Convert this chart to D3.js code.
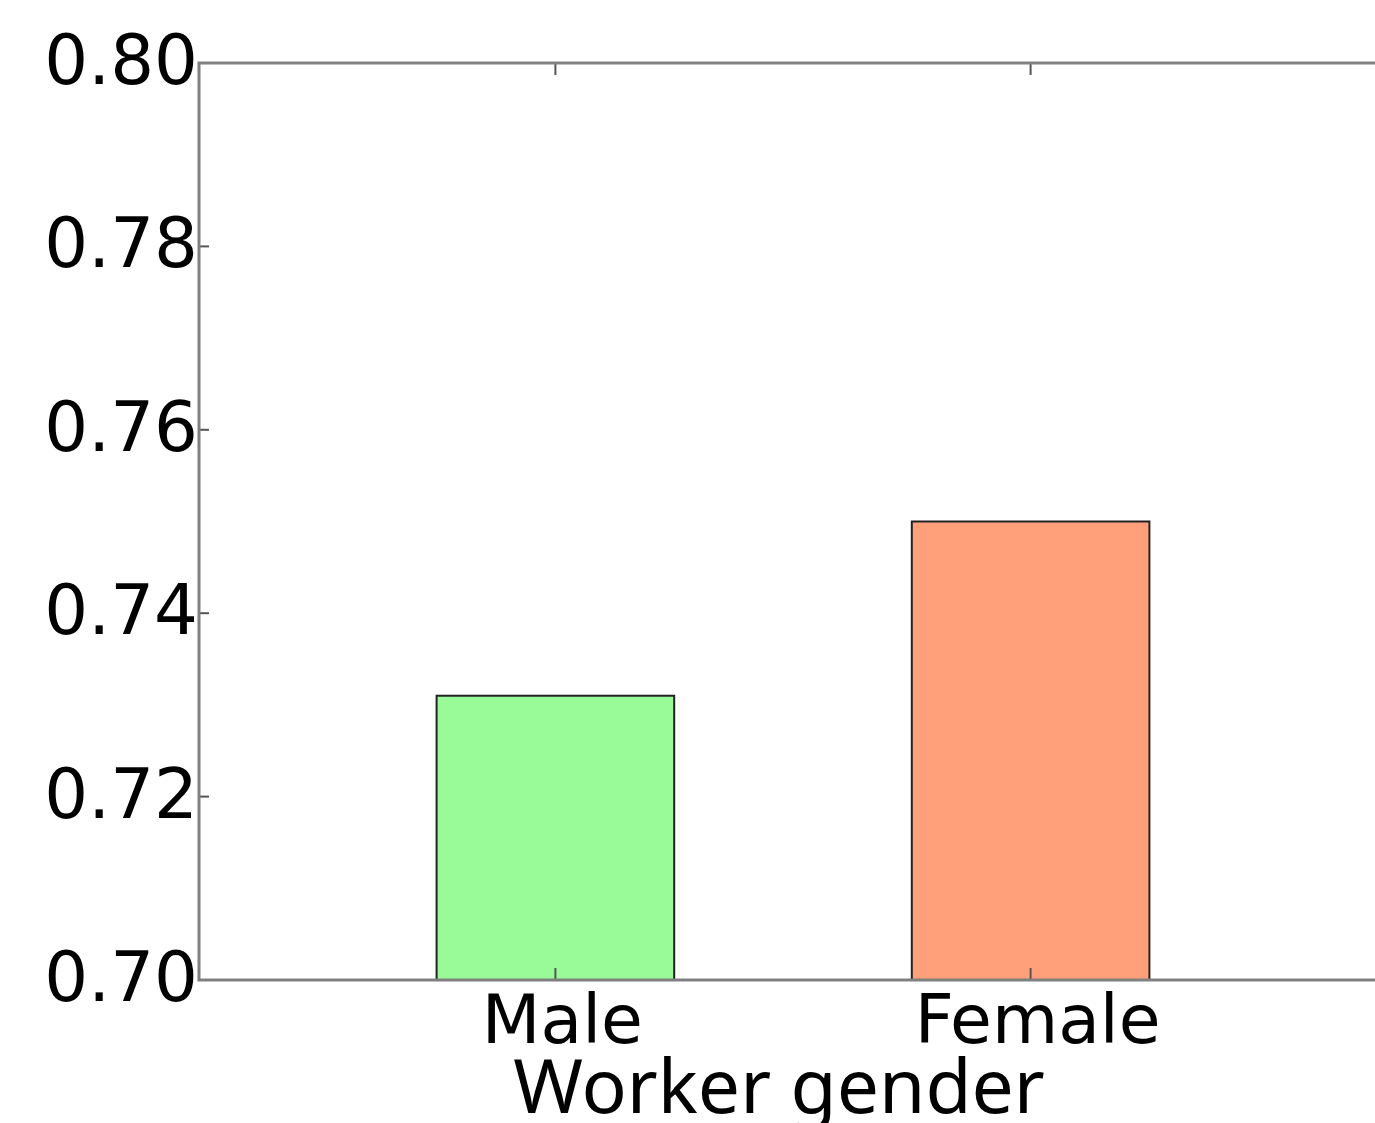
<!DOCTYPE html>
<html lang="en">
<head>
<meta charset="utf-8">
<title>Worker gender</title>
<script src="https://cdn.jsdelivr.net/npm/d3@7"></script>
<style>
  body { margin: 0; background: #fff; }
  svg { display: block; }
</style>
</head>
<body>
<script>
// data
var categories = ["Male", "Female"];
var values = [0.731, 0.750];
var barColors = ["#98fb98", "#ffa07a"];
var yTicks = [0.70, 0.72, 0.74, 0.76, 0.78, 0.80];
var xLabel = "Worker gender";

var W = 1375, H = 1123;

var svg = d3.select("body").append("svg")
    .attr("width", W)
    .attr("height", H);

// matplotlib style: bars at 0,1 with width .5, xlim -0.75..1.75
var xScale = d3.scaleLinear().domain([-0.75, 1.75]).range([199, 1387]);
var yScale = d3.scaleLinear().domain([0.70, 0.80]).range([980, 63]);

var plot = svg.append("g");

// bars
plot.selectAll("rect.bar")
    .data(values)
    .enter()
    .append("rect")
    .attr("class", "bar")
    .attr("x", function(d, i) { return xScale(i - 0.25); })
    .attr("width", function() { return xScale(0.5) - xScale(0); })
    .attr("y", function(d) { return yScale(d); })
    .attr("height", function(d) { return yScale(0.70) - yScale(d); })
    .attr("fill", function(d, i) { return barColors[i]; })
    .attr("stroke", "#222")
    .attr("stroke-width", 2);

// ticks (inward, on both sides)
var tickColor = "#555";
yTicks.forEach(function(t) {
  plot.append("line")
      .attr("x1", xScale(-0.75)).attr("x2", xScale(-0.75) + 10)
      .attr("y1", yScale(t)).attr("y2", yScale(t))
      .attr("stroke", tickColor).attr("stroke-width", 2);
});
categories.forEach(function(c, i) {
  plot.append("line")
      .attr("x1", xScale(i)).attr("x2", xScale(i))
      .attr("y1", yScale(0.80)).attr("y2", yScale(0.80) + 12)
      .attr("stroke", tickColor).attr("stroke-width", 2);
  plot.append("line")
      .attr("x1", xScale(i)).attr("x2", xScale(i))
      .attr("y1", yScale(0.70)).attr("y2", yScale(0.70) - 12)
      .attr("stroke", tickColor).attr("stroke-width", 2);
});

// frame
plot.append("rect")
    .attr("x", xScale(-0.75))
    .attr("y", yScale(0.80))
    .attr("width", xScale(1.75) - xScale(-0.75))
    .attr("height", yScale(0.70) - yScale(0.80))
    .attr("fill", "none")
    .attr("stroke", "#808080")
    .attr("stroke-width", 3);

// y tick labels
svg.selectAll("text.ytick")
    .data(yTicks)
    .enter()
    .append("text")
    .attr("class", "ytick")
    .attr("x", 198)
    .attr("y", function(d) { return yScale(d) + 21; })
    .attr("text-anchor", "end")
    .attr("font-family", "DejaVu Sans")
    .attr("font-size", 69)
    .attr("fill", "#000")
    .text(function(d) { return d3.format(".2f")(d); });

// x tick labels
svg.selectAll("text.xtick")
    .data(categories)
    .enter()
    .append("text")
    .attr("class", "xtick")
    .attr("x", function(d, i) { return xScale(i) + 7; })
    .attr("y", 1043)
    .attr("text-anchor", "middle")
    .attr("font-family", "DejaVu Sans")
    .attr("font-size", 68)
    .attr("fill", "#000")
    .text(function(d) { return d; });

// axis label
svg.append("text")
    .attr("x", 779)
    .attr("y", 1113)
    .attr("text-anchor", "middle")
    .attr("font-family", "Noto Sans")
    .attr("font-size", 75)
    .attr("fill", "#000")
    .text(xLabel);
</script>
</body>
</html>
